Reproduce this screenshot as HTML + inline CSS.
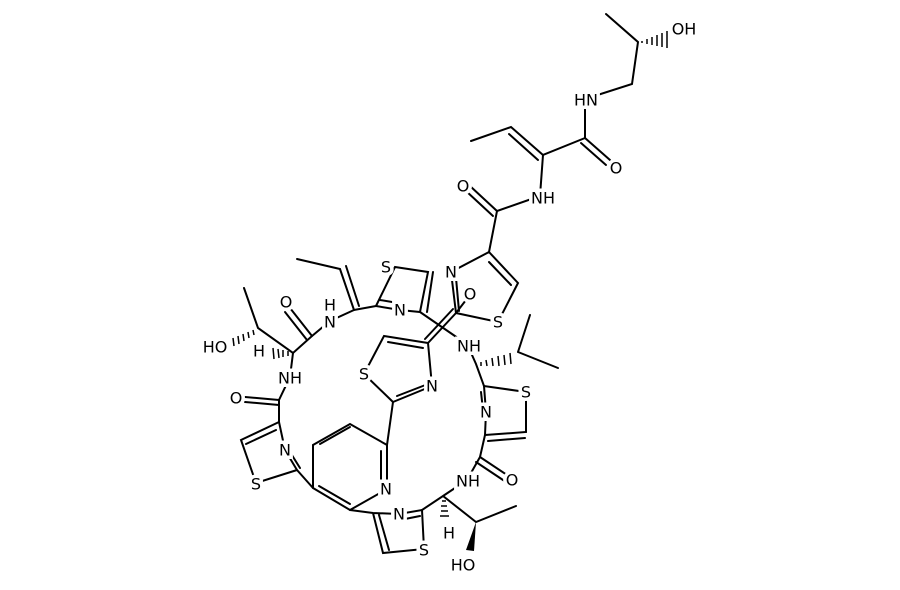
<!DOCTYPE html>
<html><head><meta charset="utf-8"><style>
html,body{margin:0;padding:0;background:#fff;}
svg text{font-family:"DejaVu Sans","Liberation Sans",sans-serif;font-size:16px;fill:#000;stroke:#fff;stroke-width:7px;paint-order:stroke;text-anchor:middle;dominant-baseline:central;}
</style></head><body>
<svg width="900" height="585" viewBox="0 0 900 585" xmlns="http://www.w3.org/2000/svg">
<g stroke="#000" stroke-width="2" fill="none" stroke-linecap="round">
<!-- top chain -->
<path d="M606,14 L638,42 L632,84 L585,99 L585,138 L543,155 L540,196 L497,211 L489,252"/>
<path d="M585,138 L610,160 M581,143 L606,165"/>
<path d="M543,155 L511,127 L471,141 M538,160 L509,134"/>
<path d="M497,211 L470,186 M493,216 L466,191"/>
<!-- top-right thiazole -->
<path d="M489,252 L518,283 L498,322 L456,313 L451,272 L489,252"/>
<path d="M489,262 L511,285"/>
<path d="M459,311 L456,278"/>
<!-- crossing bonds -->
<path d="M456,313 L428,343 M453,309 L425,339"/>
<path d="M456,313 L466,300"/>
<path d="M420,312 L468,345"/>
<!-- upper thiazole -->
<path d="M376,306 L400,310 L420,312 L428,272 L395,267 L376,306"/>
<path d="M380,300 L398,303 M433,272 L427,312"/>
<!-- left vinyl -->
<path d="M297,259 L340,269 L354,310 L376,306 M346,266 L359,306"/>
<path d="M354,310 L330,321 L312,336 L293,353 L258,328 L244,288"/>
<path d="M312,336 L290,308 M307,340 L285,312"/>
<path d="M293,353 L290,377 L279,400 L279,422"/>
<path d="M279,400 L245,397 M279,405 L245,402"/>
<!-- left thiazole -->
<path d="M279,422 L241,440 L256,483 L297,470 L285,450 L279,422 M276,430 L246,444 M300,468 L290,452"/>
<path d="M297,470 L313,488"/>
<!-- pyridine -->
<path d="M313,488 L313,445 L350,424 L387,445 L387,489 L350,510 L313,488"/>
<path d="M320,444 L350,427 M381,451 L381,484 M350,504 L319,486"/>
<path d="M387,445 L393,402"/>
<!-- center thiazole -->
<path d="M393,402 L432,386 L428,343 L384,336 L364,374 L393,402 M397,396 L428,384 M423,348 L388,342"/>
<!-- bottom thiazole -->
<path d="M350,510 L373,513 L399,514 L422,510 L424,549 L383,553 L373,513 M379,515 L389,550 M400,520 L420,516"/>
<path d="M422,510 L443,496 L476,522 L516,506 M443,496 L467,480 L480,457 L485,435"/>
<path d="M480,457 L510,477 M476,462 L506,482"/>
<!-- right thiazole -->
<path d="M485,435 L526,432 L526,392 L484,386 L486,412 L485,435 M488,441 L525,438 M481,392 L483,410"/>
<path d="M484,386 L476,364 L468,346 M518,352 L530,315 M518,352 L558,368"/>
</g>
<!-- wedges and hashes -->
<g stroke="#000" stroke-width="1.5">
<path d="M642,41 L642,43 M647,39 L647,44 M652,37 L652,45 M657,35 L657,46 M662,33 L662,47 M667,31 L667,48"/>
<path d="M253,330 L254,335 M248,332 L249,338 M243,334 L244,341 M238,336 L239,344 M233,338 L234,346"/>
<path d="M288,351 L288,356 M283,350 L283,357 M278,349 L279,358 M273,348 L274,359"/>
<path d="M481,362 L481,366 M486,360 L487,366 M492,358 L493,366 M498,356 L499,366 M504,355 L505,365 M510,353 L511,364"/>
<path d="M442,501 L446,501 M441,506 L447,506 M441,511 L448,511 M440,516 L449,516"/>
</g>
<polygon points="476,522 466,550 474,551" fill="#000"/>
<g>
<text x="684" y="29">OH</text>
<text x="586" y="100">HN</text>
<text x="616" y="168">O</text>
<text x="543" y="198">NH</text>
<text x="463" y="186">O</text>
<text x="451" y="272">N</text>
<text x="498" y="322">S</text>
<text x="470" y="294">O</text>
<text x="386" y="267">S</text>
<text x="400" y="310">N</text>
<text x="330" y="305">H</text>
<text x="330" y="322">N</text>
<text x="286" y="302">O</text>
<text x="215" y="347">HO</text>
<text x="259" y="351">H</text>
<text x="290" y="378">NH</text>
<text x="236" y="398">O</text>
<text x="285" y="450">N</text>
<text x="256" y="484">S</text>
<text x="364" y="374">S</text>
<text x="432" y="386">N</text>
<text x="469" y="346">NH</text>
<text x="526" y="392">S</text>
<text x="486" y="412">N</text>
<text x="386" y="489">N</text>
<text x="468" y="481">NH</text>
<text x="512" y="480">O</text>
<text x="399" y="514">N</text>
<text x="424" y="550">S</text>
<text x="449" y="533">H</text>
<text x="463" y="565">HO</text>
</g>
</svg>
</body></html>
